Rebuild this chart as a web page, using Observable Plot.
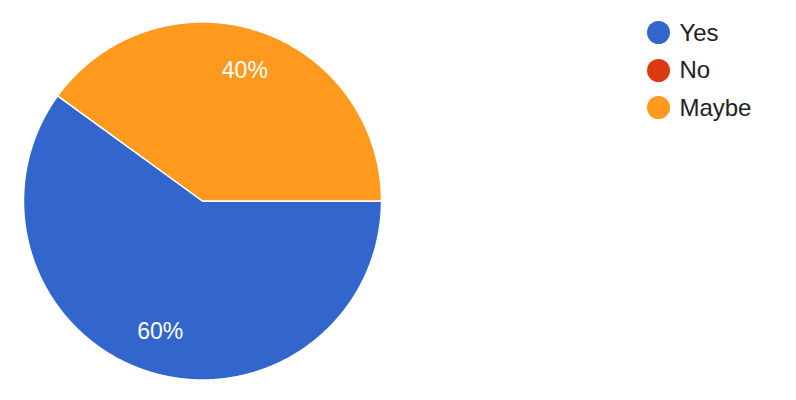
<!DOCTYPE html>
<html>
<head>
<meta charset="utf-8">
<script src="https://cdn.jsdelivr.net/npm/d3@7"></script>
<script src="https://cdn.jsdelivr.net/npm/@observablehq/plot@0.6"></script>
<style>
  html, body { margin: 0; padding: 0; background: #fff; }
  #wrap { position: relative; width: 796px; height: 400px; font-family: "Liberation Sans", Arial, Helvetica, sans-serif; }
  #legend { position: absolute; left: 647px; top: 14px; }
  .row { display: flex; align-items: center; height: 37.5px; }
  .sw { width: 23.4px; height: 23.4px; border-radius: 50%; margin-right: 9px; }
  .lbl { font-size: 24px; color: #222; }
</style>
</head>
<body>
<div id="wrap"></div>
<script>
const categories = ["Yes", "No", "Maybe"];
const counts = [60, 0, 40];
const colors = ["#3366cc", "#dc3912", "#ff9a1e"];

const total = d3.sum(counts);
const pie = d3.pie().sort(null).value(d => d.value)
  .startAngle(Math.PI / 2).endAngle(Math.PI / 2 + 2 * Math.PI);
const arcs = pie(categories.map((c, i) => ({category: c, value: counts[i]})));

// wedge outlines (unit circle) derived from pie angles
const wedgePts = [];
for (const a of arcs) {
  if (a.value <= 0) continue;
  const cat = a.data.category;
  wedgePts.push({category: cat, x: 0, y: 0});
  const n = Math.max(2, Math.ceil((a.endAngle - a.startAngle) / (Math.PI / 360)));
  for (let k = 0; k <= n; k++) {
    const t = a.startAngle + (a.endAngle - a.startAngle) * k / n;
    wedgePts.push({category: cat, x: Math.sin(t), y: Math.cos(t)});
  }
}
const labels = arcs.filter(a => a.value > 0).map(a => {
  const m = (a.startAngle + a.endAngle) / 2;
  return {label: Math.round(a.value / total * 100) + "%", x: 0.765 * Math.sin(m), y: 0.765 * Math.cos(m)};
});

const chart = Plot.plot({
  width: 796,
  height: 400,
  margin: 0,
  style: {fontFamily: '"Liberation Sans", Arial, sans-serif', background: "#fff"},
  x: {domain: [-1, 1], range: [23, 381], axis: null},
  y: {domain: [-1, 1], range: [379.5, 21.5], axis: null},
  color: {domain: categories, range: colors},
  marks: [
    Plot.line(wedgePts, {x: "x", y: "y", z: "category", fill: "category", stroke: "#fff", strokeWidth: 1.5, curve: "linear-closed"}),
    Plot.text(labels, {x: "x", y: "y", text: "label", fill: "#fff", fontSize: 23})
  ]
});
const wrap = document.getElementById("wrap");
wrap.appendChild(chart);

const legend = document.createElement("div");
legend.id = "legend";
categories.forEach((c, i) => {
  const row = document.createElement("div");
  row.className = "row";
  row.innerHTML = `<div class="sw" style="background:${colors[i]}"></div><span class="lbl">${c}</span>`;
  legend.appendChild(row);
});
wrap.appendChild(legend);
</script>
</body>
</html>
